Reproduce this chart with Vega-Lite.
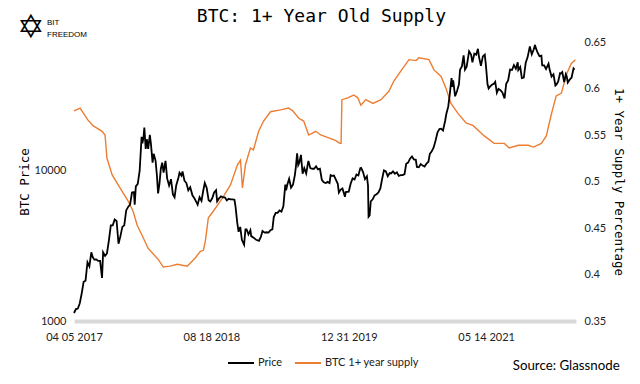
{
  "$schema": "https://vega.github.io/schema/vega-lite/v6.json",
  "background": "white",
  "padding": {"left": 17, "top": 8, "right": 5, "bottom": 5},
  "config": {"view": {"stroke": null}, "concat": {"spacing": 0}},
  "title": {"text": "✡", "anchor": "start", "font": "DejaVu Sans", "fontSize": 33, "fontWeight": "normal", "color": "#000", "dx": -57, "dy": 41, "frame": "group"},
  "vconcat": [{
    "title": {"text": ["BIT", "FREEDOM"], "anchor": "start", "font": "Liberation Sans", "fontSize": 8, "fontWeight": "normal", "color": "#000", "lineHeight": 12, "dx": -27, "dy": 35, "frame": "group"},
    "vconcat": [{
      "title": {"text": "BTC: 1+ Year Old Supply", "anchor": "middle", "font": "DejaVu Sans Mono", "fontSize": 18, "fontWeight": "normal", "color": "#000", "offset": 10},
      "vconcat": [{
        "title": {"text": "Source: Glassnode", "orient": "bottom", "anchor": "end", "frame": "bounds", "font": "Lato", "fontSize": 13.3, "fontWeight": "normal", "color": "#000", "dx": -5, "dy": 13},
        "width": 502,
        "height": 279,
        "layer": [
          {
            "data": {"name": "supply"},
            "mark": {"type": "line", "strokeWidth": 1.4, "color": "#ED7D31"},
            "encoding": {
              "x": {"field": "date", "type": "temporal",
                "scale": {"type": "utc", "domain": [{"year": 2017, "month": 4, "date": 5, "utc": true}, {"year": 2022, "month": 4, "date": 6, "utc": true}], "nice": false},
                "axis": {"title": null, "values": [{"year": 2017, "month": 4, "date": 5, "utc": true}, {"year": 2018, "month": 8, "date": 18, "utc": true}, {"year": 2019, "month": 12, "date": 31, "utc": true}, {"year": 2021, "month": 5, "date": 14, "utc": true}],
                  "labelExpr": "utcFormat(datum.value, '%m %d %Y')", "labelFont": "Lato", "labelFontSize": 11, "labelColor": "#222", "labelPadding": 10, "labelFlush": false, "labelOverlap": false, "labelBound": false,
                  "ticks": false, "grid": false, "domainColor": "#d9d9d9", "domainWidth": 4}},
              "y": {"field": "supply", "type": "quantitative",
                "scale": {"domain": [0.35, 0.65], "nice": false, "zero": false},
                "axis": {"orient": "right", "title": "1+ Year Supply Percentage", "values": [0.35, 0.4, 0.45, 0.5, 0.55, 0.6, 0.65], "format": ".2~f",
                  "labelFont": "Lato", "labelFontSize": 11, "labelColor": "#222", "labelPadding": 8,
                  "titleFont": "DejaVu Sans Mono", "titleFontSize": 12.5, "titleFontWeight": "normal", "titleColor": "#000", "titlePadding": 6,
                  "domain": false, "ticks": false, "grid": false}},
              "color": {"datum": "BTC 1+ year supply", "type": "nominal"}
            }
          },
          {
            "data": {"name": "price"},
            "mark": {"type": "line", "strokeWidth": 1.8, "color": "#000"},
            "encoding": {
              "x": {"field": "date", "type": "temporal"},
              "y": {"field": "price", "type": "quantitative",
                "scale": {"type": "log", "domain": [1000, 70500], "nice": false},
                "axis": {"orient": "left", "title": "BTC Price", "values": [1000, 10000], "format": "d",
                  "labelFont": "Lato", "labelFontSize": 11, "labelColor": "#222", "labelPadding": 8,
                  "titleFont": "DejaVu Sans Mono", "titleFontSize": 12.5, "titleFontWeight": "normal", "titleColor": "#000", "titlePadding": 3,
                  "domain": false, "ticks": false, "grid": false}},
              "color": {"datum": "Price", "type": "nominal",
                "scale": {"domain": ["Price", "BTC 1+ year supply"], "range": ["#000000", "#ED7D31"]},
                "legend": {"title": null, "orient": "none", "legendX": 153, "legendY": 307, "direction": "horizontal", "symbolType": "stroke", "symbolSize": 676, "symbolStrokeWidth": 2, "labelFont": "Lato", "labelFontSize": 11, "labelColor": "#222", "labelOffset": 3, "columnPadding": 8}}
            }
          }
        ],
        "resolve": {"scale": {"y": "independent"}}
      }]
    }]
  }],
  "datasets": {
    "price": [
      {"date": "2017-04-05", "price": 1130}, {"date": "2017-04-12", "price": 1200}, {"date": "2017-04-19", "price": 1210}, {"date": "2017-04-26", "price": 1310},
      {"date": "2017-05-03", "price": 1520}, {"date": "2017-05-10", "price": 1820}, {"date": "2017-05-17", "price": 1850}, {"date": "2017-05-24", "price": 2450},
      {"date": "2017-05-31", "price": 2300}, {"date": "2017-06-07", "price": 2850}, {"date": "2017-06-12", "price": 2650}, {"date": "2017-06-18", "price": 2550},
      {"date": "2017-06-25", "price": 2560}, {"date": "2017-07-02", "price": 2500}, {"date": "2017-07-09", "price": 2500}, {"date": "2017-07-16", "price": 1930},
      {"date": "2017-07-20", "price": 2850}, {"date": "2017-07-27", "price": 2700}, {"date": "2017-08-03", "price": 2800}, {"date": "2017-08-10", "price": 3420},
      {"date": "2017-08-17", "price": 4300}, {"date": "2017-08-24", "price": 4300}, {"date": "2017-08-31", "price": 4700}, {"date": "2017-09-07", "price": 4600},
      {"date": "2017-09-14", "price": 3250}, {"date": "2017-09-21", "price": 3650}, {"date": "2017-09-28", "price": 4200}, {"date": "2017-10-05", "price": 4300},
      {"date": "2017-10-12", "price": 5400}, {"date": "2017-10-19", "price": 5700}, {"date": "2017-10-26", "price": 5900}, {"date": "2017-11-02", "price": 7100},
      {"date": "2017-11-09", "price": 7150}, {"date": "2017-11-12", "price": 5900}, {"date": "2017-11-16", "price": 7800}, {"date": "2017-11-23", "price": 8100},
      {"date": "2017-11-30", "price": 9900}, {"date": "2017-12-07", "price": 16600}, {"date": "2017-12-10", "price": 15000}, {"date": "2017-12-14", "price": 16500},
      {"date": "2017-12-17", "price": 19100}, {"date": "2017-12-22", "price": 13800}, {"date": "2017-12-26", "price": 16000}, {"date": "2017-12-31", "price": 13800},
      {"date": "2018-01-06", "price": 17100}, {"date": "2018-01-10", "price": 14900}, {"date": "2018-01-16", "price": 11200}, {"date": "2018-01-20", "price": 12800},
      {"date": "2018-01-27", "price": 11500}, {"date": "2018-02-01", "price": 9100}, {"date": "2018-02-05", "price": 7000}, {"date": "2018-02-10", "price": 8100},
      {"date": "2018-02-15", "price": 10200}, {"date": "2018-02-20", "price": 11200}, {"date": "2018-02-25", "price": 9600}, {"date": "2018-03-04", "price": 11500},
      {"date": "2018-03-10", "price": 8800}, {"date": "2018-03-17", "price": 7900}, {"date": "2018-03-24", "price": 8700}, {"date": "2018-03-31", "price": 6900},
      {"date": "2018-04-06", "price": 6600}, {"date": "2018-04-12", "price": 7900}, {"date": "2018-04-20", "price": 8900}, {"date": "2018-04-24", "price": 9600},
      {"date": "2018-05-01", "price": 9200}, {"date": "2018-05-05", "price": 9800}, {"date": "2018-05-12", "price": 8500}, {"date": "2018-05-19", "price": 8200},
      {"date": "2018-05-26", "price": 7350}, {"date": "2018-06-02", "price": 7700}, {"date": "2018-06-10", "price": 6800}, {"date": "2018-06-17", "price": 6500},
      {"date": "2018-06-24", "price": 6150}, {"date": "2018-06-29", "price": 5900}, {"date": "2018-07-06", "price": 6600}, {"date": "2018-07-13", "price": 6250},
      {"date": "2018-07-20", "price": 7400}, {"date": "2018-07-25", "price": 8200}, {"date": "2018-08-01", "price": 7600}, {"date": "2018-08-08", "price": 6300},
      {"date": "2018-08-14", "price": 6200}, {"date": "2018-08-21", "price": 6500}, {"date": "2018-08-28", "price": 7100}, {"date": "2018-09-04", "price": 7350},
      {"date": "2018-09-08", "price": 6200}, {"date": "2018-09-15", "price": 6500}, {"date": "2018-09-22", "price": 6700}, {"date": "2018-09-29", "price": 6600},
      {"date": "2018-10-06", "price": 6600}, {"date": "2018-10-13", "price": 6300}, {"date": "2018-10-20", "price": 6450}, {"date": "2018-10-27", "price": 6400},
      {"date": "2018-11-03", "price": 6400}, {"date": "2018-11-10", "price": 6350}, {"date": "2018-11-14", "price": 5700}, {"date": "2018-11-20", "price": 4500},
      {"date": "2018-11-25", "price": 3900}, {"date": "2018-12-01", "price": 4200}, {"date": "2018-12-07", "price": 3450}, {"date": "2018-12-15", "price": 3200},
      {"date": "2018-12-20", "price": 4050}, {"date": "2018-12-24", "price": 4050}, {"date": "2018-12-31", "price": 3750},
      {"date": "2019-01-07", "price": 4000}, {"date": "2019-01-10", "price": 3650}, {"date": "2019-01-20", "price": 3550}, {"date": "2019-01-28", "price": 3450},
      {"date": "2019-02-07", "price": 3400}, {"date": "2019-02-14", "price": 3600}, {"date": "2019-02-20", "price": 3950}, {"date": "2019-02-28", "price": 3850},
      {"date": "2019-03-07", "price": 3870}, {"date": "2019-03-14", "price": 3850}, {"date": "2019-03-21", "price": 4000}, {"date": "2019-03-28", "price": 4050},
      {"date": "2019-04-02", "price": 4880}, {"date": "2019-04-09", "price": 5200}, {"date": "2019-04-16", "price": 5200}, {"date": "2019-04-23", "price": 5400},
      {"date": "2019-04-30", "price": 5300}, {"date": "2019-05-07", "price": 5750}, {"date": "2019-05-14", "price": 8000}, {"date": "2019-05-17", "price": 7350},
      {"date": "2019-05-21", "price": 7950}, {"date": "2019-05-28", "price": 8750}, {"date": "2019-06-04", "price": 7650}, {"date": "2019-06-11", "price": 8000},
      {"date": "2019-06-18", "price": 9300}, {"date": "2019-06-22", "price": 10700}, {"date": "2019-06-26", "price": 12900}, {"date": "2019-06-30", "price": 10800},
      {"date": "2019-07-04", "price": 11200}, {"date": "2019-07-10", "price": 12600}, {"date": "2019-07-16", "price": 9450}, {"date": "2019-07-22", "price": 10300},
      {"date": "2019-07-29", "price": 9500}, {"date": "2019-08-06", "price": 11500}, {"date": "2019-08-13", "price": 10300}, {"date": "2019-08-20", "price": 10200},
      {"date": "2019-08-27", "price": 10200}, {"date": "2019-09-03", "price": 10600}, {"date": "2019-09-10", "price": 10100}, {"date": "2019-09-17", "price": 10200},
      {"date": "2019-09-24", "price": 8600}, {"date": "2019-10-01", "price": 8300}, {"date": "2019-10-08", "price": 8200}, {"date": "2019-10-15", "price": 8350},
      {"date": "2019-10-22", "price": 8200}, {"date": "2019-10-26", "price": 9250}, {"date": "2019-10-31", "price": 9150}, {"date": "2019-11-07", "price": 9200},
      {"date": "2019-11-14", "price": 8650}, {"date": "2019-11-21", "price": 8100}, {"date": "2019-11-25", "price": 7100}, {"date": "2019-12-01", "price": 7400},
      {"date": "2019-12-08", "price": 7550}, {"date": "2019-12-17", "price": 6650}, {"date": "2019-12-20", "price": 7150}, {"date": "2019-12-31", "price": 7200},
      {"date": "2020-01-07", "price": 8150}, {"date": "2020-01-14", "price": 8800}, {"date": "2020-01-21", "price": 8650}, {"date": "2020-01-28", "price": 9350},
      {"date": "2020-02-04", "price": 9200}, {"date": "2020-02-11", "price": 10300}, {"date": "2020-02-14", "price": 10350}, {"date": "2020-02-21", "price": 9700},
      {"date": "2020-02-28", "price": 8700}, {"date": "2020-03-06", "price": 9100}, {"date": "2020-03-10", "price": 7900}, {"date": "2020-03-12", "price": 4900},
      {"date": "2020-03-16", "price": 5000}, {"date": "2020-03-20", "price": 6200}, {"date": "2020-03-27", "price": 6400}, {"date": "2020-04-03", "price": 6800},
      {"date": "2020-04-10", "price": 6900}, {"date": "2020-04-17", "price": 7100}, {"date": "2020-04-24", "price": 7550}, {"date": "2020-04-30", "price": 8650},
      {"date": "2020-05-07", "price": 9950}, {"date": "2020-05-14", "price": 9800}, {"date": "2020-05-21", "price": 9100}, {"date": "2020-05-28", "price": 9550},
      {"date": "2020-06-02", "price": 9500}, {"date": "2020-06-09", "price": 9800}, {"date": "2020-06-16", "price": 9450}, {"date": "2020-06-23", "price": 9650},
      {"date": "2020-06-30", "price": 9150}, {"date": "2020-07-07", "price": 9250}, {"date": "2020-07-14", "price": 9250}, {"date": "2020-07-21", "price": 9400},
      {"date": "2020-07-27", "price": 11000}, {"date": "2020-08-03", "price": 11200}, {"date": "2020-08-10", "price": 11900}, {"date": "2020-08-17", "price": 12300},
      {"date": "2020-08-24", "price": 11750}, {"date": "2020-08-31", "price": 11700}, {"date": "2020-09-04", "price": 10500}, {"date": "2020-09-11", "price": 10450},
      {"date": "2020-09-18", "price": 10950}, {"date": "2020-09-25", "price": 10700}, {"date": "2020-10-02", "price": 10550}, {"date": "2020-10-09", "price": 11050},
      {"date": "2020-10-16", "price": 11350}, {"date": "2020-10-21", "price": 12800}, {"date": "2020-10-28", "price": 13300}, {"date": "2020-11-04", "price": 14100},
      {"date": "2020-11-11", "price": 15700}, {"date": "2020-11-18", "price": 17800}, {"date": "2020-11-25", "price": 18700}, {"date": "2020-12-01", "price": 18800},
      {"date": "2020-12-08", "price": 18300}, {"date": "2020-12-16", "price": 21300}, {"date": "2020-12-20", "price": 23500}, {"date": "2020-12-27", "price": 26300},
      {"date": "2021-01-02", "price": 32200}, {"date": "2021-01-08", "price": 40600}, {"date": "2021-01-11", "price": 35500}, {"date": "2021-01-14", "price": 39200},
      {"date": "2021-01-21", "price": 30800}, {"date": "2021-01-28", "price": 33400}, {"date": "2021-02-04", "price": 36900}, {"date": "2021-02-08", "price": 46200},
      {"date": "2021-02-15", "price": 48700}, {"date": "2021-02-21", "price": 57500}, {"date": "2021-02-26", "price": 46300}, {"date": "2021-03-04", "price": 48400},
      {"date": "2021-03-13", "price": 61200}, {"date": "2021-03-20", "price": 58300}, {"date": "2021-03-25", "price": 51700}, {"date": "2021-04-01", "price": 59000},
      {"date": "2021-04-08", "price": 58100}, {"date": "2021-04-14", "price": 63500}, {"date": "2021-04-18", "price": 56200}, {"date": "2021-04-25", "price": 49000},
      {"date": "2021-05-02", "price": 56600}, {"date": "2021-05-09", "price": 58200}, {"date": "2021-05-13", "price": 49700}, {"date": "2021-05-19", "price": 37000},
      {"date": "2021-05-23", "price": 34700}, {"date": "2021-05-28", "price": 35700}, {"date": "2021-06-04", "price": 36700}, {"date": "2021-06-11", "price": 37300},
      {"date": "2021-06-16", "price": 38400}, {"date": "2021-06-22", "price": 32500}, {"date": "2021-06-28", "price": 34500}, {"date": "2021-07-05", "price": 33800},
      {"date": "2021-07-12", "price": 32700}, {"date": "2021-07-20", "price": 29800}, {"date": "2021-07-26", "price": 37300}, {"date": "2021-08-02", "price": 39200},
      {"date": "2021-08-09", "price": 46300}, {"date": "2021-08-16", "price": 46000}, {"date": "2021-08-23", "price": 49500}, {"date": "2021-08-30", "price": 46900},
      {"date": "2021-09-06", "price": 51700}, {"date": "2021-09-08", "price": 46000}, {"date": "2021-09-15", "price": 48100}, {"date": "2021-09-21", "price": 40700},
      {"date": "2021-09-28", "price": 41000}, {"date": "2021-10-05", "price": 51500}, {"date": "2021-10-12", "price": 56000}, {"date": "2021-10-20", "price": 65900},
      {"date": "2021-10-27", "price": 58400}, {"date": "2021-11-03", "price": 62900}, {"date": "2021-11-08", "price": 67500}, {"date": "2021-11-10", "price": 64900},
      {"date": "2021-11-17", "price": 60100}, {"date": "2021-11-24", "price": 56800}, {"date": "2021-12-01", "price": 57200}, {"date": "2021-12-04", "price": 49400},
      {"date": "2021-12-11", "price": 49300}, {"date": "2021-12-18", "price": 46700}, {"date": "2021-12-27", "price": 50700}, {"date": "2021-12-31", "price": 46300},
      {"date": "2022-01-07", "price": 41600}, {"date": "2022-01-14", "price": 43100}, {"date": "2022-01-21", "price": 36300}, {"date": "2022-01-24", "price": 36700},
      {"date": "2022-01-31", "price": 38500}, {"date": "2022-02-07", "price": 43800}, {"date": "2022-02-10", "price": 43600}, {"date": "2022-02-15", "price": 44500},
      {"date": "2022-02-22", "price": 38300}, {"date": "2022-02-28", "price": 43200}, {"date": "2022-03-03", "price": 42000}, {"date": "2022-03-07", "price": 38000},
      {"date": "2022-03-14", "price": 39700}, {"date": "2022-03-21", "price": 41000}, {"date": "2022-03-28", "price": 47100}, {"date": "2022-04-01", "price": 46300}
    ],
    "supply": [
      {"date": "2017-04-05", "supply": 0.576}, {"date": "2017-04-27", "supply": 0.579}, {"date": "2017-05-26", "supply": 0.566}, {"date": "2017-06-13", "supply": 0.560},
      {"date": "2017-07-16", "supply": 0.554}, {"date": "2017-07-27", "supply": 0.550}, {"date": "2017-08-03", "supply": 0.525}, {"date": "2017-08-22", "supply": 0.507},
      {"date": "2017-09-20", "supply": 0.493}, {"date": "2017-10-19", "supply": 0.479}, {"date": "2017-11-06", "supply": 0.468}, {"date": "2017-11-21", "supply": 0.453},
      {"date": "2017-12-09", "supply": 0.442}, {"date": "2017-12-31", "supply": 0.428}, {"date": "2018-02-06", "supply": 0.416}, {"date": "2018-02-24", "supply": 0.408},
      {"date": "2018-03-21", "supply": 0.409}, {"date": "2018-04-16", "supply": 0.411}, {"date": "2018-05-22", "supply": 0.409}, {"date": "2018-06-21", "supply": 0.418},
      {"date": "2018-07-09", "supply": 0.425}, {"date": "2018-07-20", "supply": 0.426}, {"date": "2018-07-27", "supply": 0.436}, {"date": "2018-08-07", "supply": 0.461},
      {"date": "2018-08-25", "supply": 0.468}, {"date": "2018-09-27", "supply": 0.482}, {"date": "2018-10-26", "supply": 0.496}, {"date": "2018-11-21", "supply": 0.518},
      {"date": "2018-12-02", "supply": 0.523}, {"date": "2018-12-09", "supply": 0.493}, {"date": "2018-12-20", "supply": 0.518}, {"date": "2019-01-07", "supply": 0.536},
      {"date": "2019-01-18", "supply": 0.534}, {"date": "2019-02-06", "supply": 0.554}, {"date": "2019-02-24", "supply": 0.565}, {"date": "2019-03-21", "supply": 0.575},
      {"date": "2019-04-27", "supply": 0.577}, {"date": "2019-05-26", "supply": 0.579}, {"date": "2019-06-10", "supply": 0.576}, {"date": "2019-07-02", "supply": 0.568},
      {"date": "2019-07-20", "supply": 0.565}, {"date": "2019-08-07", "supply": 0.550}, {"date": "2019-09-02", "supply": 0.554}, {"date": "2019-09-20", "supply": 0.550},
      {"date": "2019-10-19", "supply": 0.547}, {"date": "2019-11-14", "supply": 0.544}, {"date": "2019-11-28", "supply": 0.541}, {"date": "2019-12-03", "supply": 0.541},
      {"date": "2019-12-06", "supply": 0.588}, {"date": "2019-12-27", "supply": 0.590}, {"date": "2020-01-18", "supply": 0.593}, {"date": "2020-02-02", "supply": 0.590},
      {"date": "2020-02-13", "supply": 0.582}, {"date": "2020-03-02", "supply": 0.588}, {"date": "2020-03-28", "supply": 0.584}, {"date": "2020-04-26", "supply": 0.588},
      {"date": "2020-05-25", "supply": 0.597}, {"date": "2020-06-12", "supply": 0.608}, {"date": "2020-07-08", "supply": 0.619}, {"date": "2020-08-06", "supply": 0.631},
      {"date": "2020-09-01", "supply": 0.630}, {"date": "2020-09-11", "supply": 0.633}, {"date": "2020-10-18", "supply": 0.631}, {"date": "2020-11-05", "supply": 0.620},
      {"date": "2020-12-01", "supply": 0.613}, {"date": "2020-12-19", "supply": 0.600}, {"date": "2021-01-06", "supply": 0.584}, {"date": "2021-02-01", "supply": 0.573},
      {"date": "2021-03-02", "supply": 0.563}, {"date": "2021-03-28", "supply": 0.560}, {"date": "2021-05-07", "supply": 0.549}, {"date": "2021-06-12", "supply": 0.541},
      {"date": "2021-07-19", "supply": 0.541}, {"date": "2021-08-06", "supply": 0.536}, {"date": "2021-09-08", "supply": 0.539}, {"date": "2021-10-14", "supply": 0.539},
      {"date": "2021-11-02", "supply": 0.537}, {"date": "2021-12-01", "supply": 0.541}, {"date": "2021-12-19", "supply": 0.549}, {"date": "2022-01-06", "supply": 0.572},
      {"date": "2022-01-24", "supply": 0.592}, {"date": "2022-02-12", "supply": 0.595}, {"date": "2022-03-02", "supply": 0.615}, {"date": "2022-03-20", "supply": 0.627},
      {"date": "2022-04-04", "supply": 0.631}
    ]
  }
}
